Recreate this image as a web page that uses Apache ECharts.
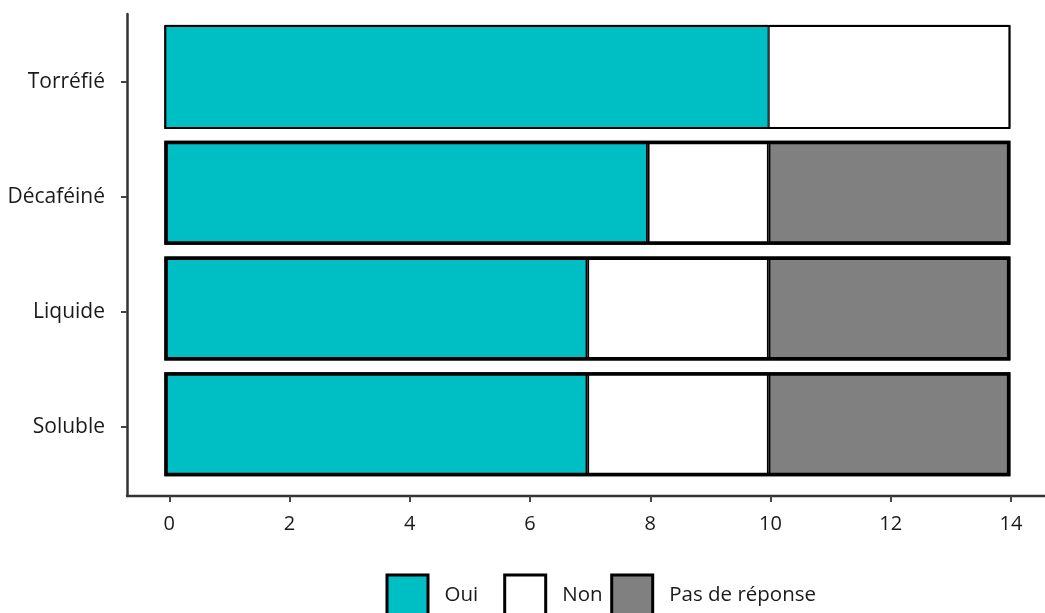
<!DOCTYPE html>
<html>
<head>
<meta charset="utf-8">
<script src="https://cdn.jsdelivr.net/npm/echarts@6/dist/echarts.min.js"></script>
<style>
html,body{margin:0;padding:0;background:#fff;}
#chart{width:1045px;height:613px;}
</style>
</head>
<body>
<div id="chart"></div>
<script>
// Categories listed bottom to top
const categories = ['Soluble', 'Liquide', 'Décaféiné', 'Torréfié'];
const oui = [7, 7, 8, 10];
const non = [3, 3, 2, 4];
const pasDeReponse = [4, 4, 4, 0];
const xTickValues = [0, 2, 4, 6, 8, 10, 12, 14];
const seriesNames = ['Oui', 'Non', 'Pas de réponse'];

const FONT = '"Open Sans", "DejaVu Sans", sans-serif';
const TEXT = '#1a1a1a';
const AXIS = '#333333';
const colors = ['#00BFC4', '#FFFFFF', '#808080'];
const xMin = -0.704, xMax = 14.566;

// thin border on every segment (junctions get two of them), thick outline on the whole bar
function segBorder(i) { return i === 3 ? 1 : 1.75; }
function outlineBorder(i) { return i === 3 ? 2 : 3.5; }

function toItems(arr) {
  return arr.map((v, i) => ({
    value: v === 0 ? '-' : v,
    itemStyle: { borderWidth: segBorder(i) }
  }));
}
const totals = categories.map((c, i) => oui[i] + non[i] + pasDeReponse[i]);

const chart = echarts.init(document.getElementById('chart'), null, { renderer: 'canvas' });

const legendLefts = [385.5, 503.2, 610.2];

const segSeries = [oui, non, pasDeReponse].map((arr, i) => ({
  name: seriesNames[i],
  type: 'bar',
  stack: 'total',
  xAxisIndex: 0,
  yAxisIndex: 0,
  barWidth: 104,
  barGap: '-100%',
  itemStyle: { color: colors[i], borderColor: '#000000', borderWidth: 1.75 },
  data: toItems(arr)
}));

const outlineSeries = {
  name: 'outline',
  type: 'bar',
  stack: 'outline',
  xAxisIndex: 0,
  yAxisIndex: 0,
  barWidth: 104,
  barGap: '-100%',
  silent: true,
  itemStyle: { color: 'rgba(0,0,0,0)', borderColor: '#000000', borderWidth: 3.5 },
  data: totals.map((v, i) => ({ value: v, itemStyle: { borderWidth: outlineBorder(i) } }))
};

const option = {
  backgroundColor: '#ffffff',
  animation: false,
  textStyle: { fontFamily: FONT },
  grid: [
    { left: 121.8, right: 0.4, top: 19, bottom: 131 },
    { left: 127, right: 0, top: 14, bottom: 117 },
    { left: 127, right: 0, top: 24.6, bottom: 128.4 }
  ],
  xAxis: [
    { gridIndex: 0, type: 'value', min: xMin, max: xMax, show: false },
    {
      gridIndex: 1, type: 'value', min: xMin, max: xMax,
      axisLine: { show: true, onZero: false, lineStyle: { color: AXIS, width: 2.3 } },
      axisTick: { show: true, length: 6, lineStyle: { color: '#444', width: 2 }, customValues: xTickValues },
      axisLabel: { show: true, margin: 18, color: TEXT, fontSize: 20, fontFamily: FONT, customValues: xTickValues },
      splitLine: { show: false }
    },
    { gridIndex: 2, type: 'value', min: xMin, max: xMax, show: false }
  ],
  yAxis: [
    { gridIndex: 0, type: 'category', data: categories, show: false },
    {
      gridIndex: 1, type: 'value', min: 0, max: 1,
      axisLine: { show: true, onZero: false, lineStyle: { color: AXIS, width: 2.5 } },
      axisTick: { show: false },
      axisLabel: { show: false },
      splitLine: { show: false }
    },
    {
      gridIndex: 2, type: 'category', data: categories,
      axisLine: { show: false, onZero: false },
      axisTick: { show: true, alignWithLabel: true, length: 6, lineStyle: { color: '#444', width: 2 } },
      axisLabel: { show: true, margin: 22, color: TEXT, fontSize: 21, fontFamily: FONT },
      splitLine: { show: false }
    }
  ],
  legend: seriesNames.map((name, i) => ({
    data: [name],
    left: legendLefts[i],
    top: 573.5,
    padding: 0,
    itemWidth: 41,
    itemHeight: 41,
    icon: 'rect',
    itemStyle: { borderWidth: 3, borderColor: '#000' },
    textStyle: { fontSize: 20.5, color: TEXT, fontFamily: FONT, padding: [0, 0, 0, 11.5] },
    selectedMode: false
  })),
  series: segSeries.concat([outlineSeries])
};

chart.setOption(option);
</script>
</body>
</html>
